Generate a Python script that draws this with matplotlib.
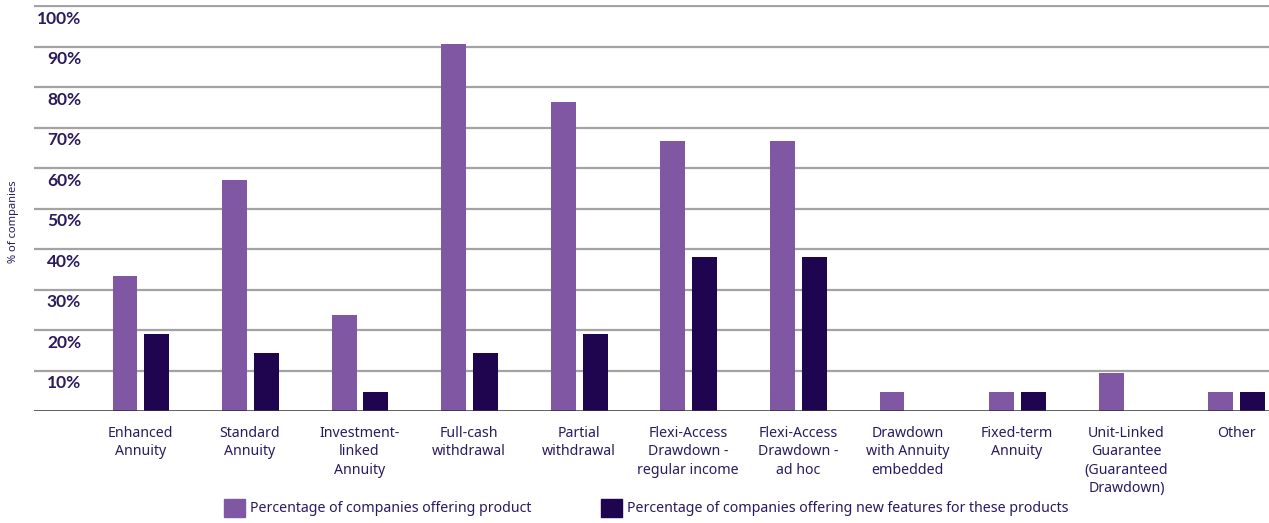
import matplotlib
matplotlib.use("Agg")
import matplotlib.pyplot as plt
from matplotlib.patches import Rectangle
from matplotlib.transforms import blended_transform_factory
import numpy as np

categories = [
    "Enhanced\nAnnuity",
    "Standard\nAnnuity",
    "Investment-\nlinked\nAnnuity",
    "Full-cash\nwithdrawal",
    "Partial\nwithdrawal",
    "Flexi-Access\nDrawdown -\nregular income",
    "Flexi-Access\nDrawdown -\nad hoc",
    "Drawdown\nwith Annuity\nembedded",
    "Fixed-term\nAnnuity",
    "Unit-Linked\nGuarantee\n(Guaranteed\nDrawdown)",
    "Other",
]
offering_product = [33.3, 57.1, 23.8, 90.5, 76.2, 66.7, 66.7, 4.8, 4.8, 9.5, 4.8]
offering_new_features = [19.0, 14.3, 4.8, 14.3, 19.0, 38.1, 38.1, 0.0, 4.8, 0.0, 4.8]
series_names = [
    "Percentage of companies offering product",
    "Percentage of companies offering new features for these products",
]
y_ticks = [10, 20, 30, 40, 50, 60, 70, 80, 90, 100]

LIGHT = "#7f57a3"
DARK = "#1f0550"
TEXT = "#2a1a5e"
FONT = "Noto Sans"
BOLD_FONT = "Lato"

W, H = 1269, 523
fig = plt.figure(figsize=(W / 100, H / 100), dpi=100)
ax = fig.add_axes([34 / W, 1 - 411 / H, 1 - 34 / W, (411 - 5) / H])

x = np.arange(len(categories))
bw = 0.227
off = 0.145
ax.bar(x - off + 0.005, offering_product, width=bw, color=LIGHT, zorder=3)
ax.bar(x + off + 0.005, offering_new_features, width=bw, color=DARK, zorder=3)

ax.set_xlim(-0.97, 10.3)
ax.set_ylim(0, 100.25)

# horizontal grid lines
for v in y_ticks:
    ax.axhline(v, color="#a3a3a3", lw=1.6, zorder=1)
ax.axhline(0, color="#333333", lw=1.8, zorder=4)

for s in ax.spines.values():
    s.set_visible(False)
ax.set_yticks([])
ax.set_xticks([])

# y tick labels, sitting just under each grid line
tr = blended_transform_factory(ax.transAxes, ax.transData)
for v in y_ticks:
    ax.text((81 - 34) / (W - 34), v - 3.2, f"{v}%", transform=tr,
            ha="right", va="center", fontsize=12.5, fontweight="bold",
            color=TEXT, family=BOLD_FONT)

# category labels
for xi, lab in zip(x, categories):
    ax.text(xi, -3.6, lab, ha="center", va="top", fontsize=10.2,
            color=TEXT, family=FONT, linespacing=1.32)

fig.text(14 / W, 1 - 222 / H, "% of companies", rotation=90,
         ha="center", va="center", fontsize=8, color=TEXT, family=FONT)

# legend
leg_y = 1 - 508 / H
for px, name, col in [(224, series_names[0], LIGHT), (601, series_names[1], DARK)]:
    fig.patches.append(Rectangle((px / W, 1 - 517 / H), 21 / W, 18 / H,
                                 transform=fig.transFigure, color=col))
    fig.text((px + 26) / W, leg_y, name, ha="left", va="center",
             fontsize=10.2, color=TEXT, family=FONT)

fig.savefig("out.png", dpi=100)
